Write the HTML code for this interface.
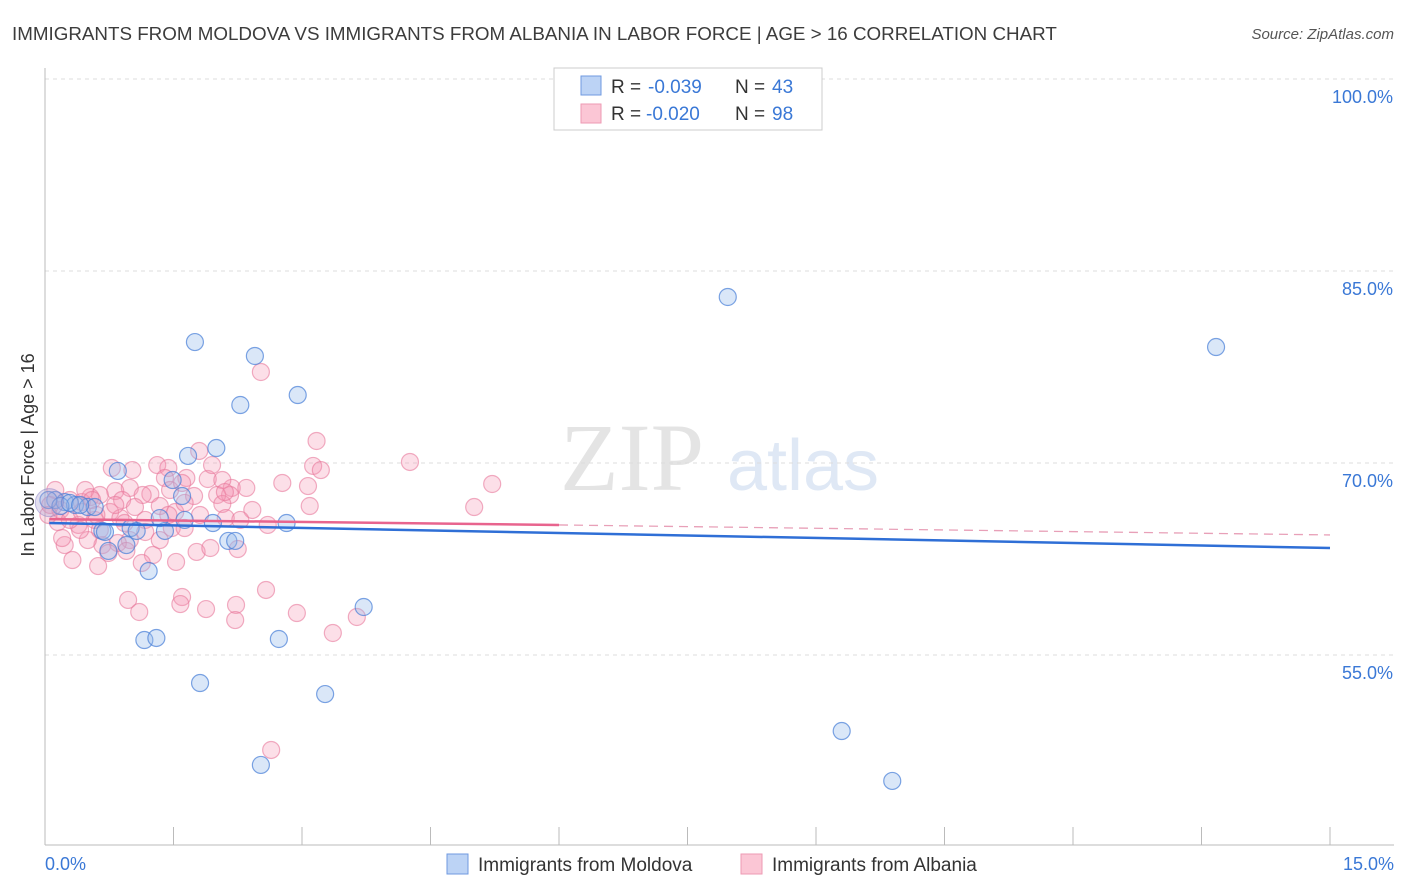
<!DOCTYPE html>
<html><head><meta charset="utf-8"><style>
body{margin:0;background:#fff;font-family:"Liberation Sans",sans-serif;}
svg{display:block}
</style></head><body>
<svg id="c" width="1406" height="892" xmlns="http://www.w3.org/2000/svg">
<text x="12" y="40" font-size="18.8" fill="#3c3c3c">IMMIGRANTS FROM MOLDOVA VS IMMIGRANTS FROM ALBANIA IN LABOR FORCE | AGE &gt; 16 CORRELATION CHART</text>
<text x="1394" y="39" font-size="15" fill="#555" font-style="italic" text-anchor="end">Source: ZipAtlas.com</text>
<g><text x="632" y="490" font-size="96" fill="#e4e4e4" text-anchor="middle" font-family="Liberation Serif,serif">ZIP</text><text x="803" y="490" font-size="72" fill="#dfe8f5" text-anchor="middle">atlas</text></g>
<g id="grid"></g>
<line x1="45" y1="68" x2="45" y2="845" stroke="#bbb"/>
<line x1="45" y1="845" x2="1394" y2="845" stroke="#bbb"/>
<g id="xt"></g>
<text x="45" y="870" font-size="18" fill="#3a78d6">0.0%</text>
<text x="1394" y="870" font-size="18" fill="#3a78d6" text-anchor="end">15.0%</text>
<text transform="translate(34,455) rotate(-90)" font-size="18" fill="#333" text-anchor="middle">In Labor Force | Age &gt; 16</text>
<g id="pts"></g>
<g id="lines"></g>
<g>
<rect x="554" y="68" width="268" height="62" fill="#fff" stroke="#ccc"/>
<rect x="581" y="76" width="20" height="19" fill="#bcd3f5" stroke="#6f9ae0"/>
<rect x="581" y="104" width="20" height="19" fill="#fbc6d5" stroke="#ee9ab3"/>
<text x="611" y="93" font-size="19" fill="#333">R = </text><text x="648" y="93" font-size="19" fill="#3a78d6">-0.039</text>
<text x="735" y="93" font-size="19" fill="#333">N = </text><text x="772" y="93" font-size="19" fill="#3a78d6">43</text>
<text x="611" y="120" font-size="19" fill="#333">R = </text><text x="646" y="120" font-size="19" fill="#3a78d6">-0.020</text>
<text x="735" y="120" font-size="19" fill="#333">N = </text><text x="772" y="120" font-size="19" fill="#3a78d6">98</text>
</g>
<g>
<rect x="447" y="854" width="21" height="20" fill="#bcd3f5" stroke="#6f9ae0"/>
<text x="478" y="871" font-size="19" fill="#333">Immigrants from Moldova</text>
<rect x="741" y="854" width="21" height="20" fill="#fbc6d5" stroke="#ee9ab3"/>
<text x="772" y="871" font-size="19" fill="#333">Immigrants from Albania</text>
</g>
</svg>
<script>
const yTicks=[100,85,70,55];
const yTickLabels=["100.0%","85.0%","70.0%","55.0%"];
const xTicks=[0,1.5,3,4.5,6,7.5,9,10.5,12,13.5,15];
const moldovaX=[1.75,2.45,7.97,13.67,2.28,2.95,2.0,1.67,0.85,1.6,0.12,0.23,0.35,0.5,0.67,1.0,1.07,1.4,1.96,2.82,2.14,2.22,0.95,0.74,1.21,3.72,1.16,1.30,2.73,1.81,3.27,9.3,9.89,2.52,0.04,0.18,1.49,1.63,1.34,0.29,0.58,0.41,0.7];
const moldovaY=[79.45,78.36,82.97,79.06,74.53,75.31,71.17,70.55,69.38,67.42,67.11,66.95,66.72,66.56,64.69,64.92,64.69,64.69,65.31,65.31,63.91,63.91,63.59,63.13,61.56,58.75,56.17,56.33,56.25,52.81,51.95,49.06,45.16,46.41,67.11,66.64,68.67,65.55,65.7,66.88,66.56,66.72,64.61];
const albaniaX=[2.52,3.17,4.26,5.22,5.01,3.13,3.22,1.8,0.78,1.31,1.44,1.65,1.4,1.9,2.18,2.35,2.77,3.07,2.07,2.16,1.74,2.01,0.99,1.23,1.14,0.82,0.64,0.53,0.43,0.29,0.18,0.06,0.58,0.39,0.76,0.9,1.05,1.34,1.52,2.07,2.11,2.42,3.09,0.88,1.17,1.48,1.63,1.17,0.99,0.85,0.67,0.5,0.41,0.23,0.2,0.32,0.62,0.74,0.95,1.26,1.13,1.53,1.77,1.93,2.25,1.63,1.81,1.44,2.6,2.58,2.94,2.23,2.22,1.88,1.6,1.58,0.97,1.1,3.36,3.64,2.64,0.15,0.04,0.12,0.47,0.55,0.6,0.82,1.02,1.46,1.6,1.95,2.1,2.28,1.34,0.93,0.29,0.64,0.43];
const albaniaY=[77.11,71.72,70.08,68.36,66.56,69.77,69.45,70.94,69.61,69.84,69.61,68.83,68.83,68.75,68.05,68.05,68.44,68.2,68.67,67.5,67.42,67.5,68.05,67.58,67.5,67.81,67.5,67.34,66.95,67.11,66.33,66.72,65.55,65.16,66.17,67.11,66.56,66.64,66.17,66.8,65.7,66.33,66.64,65.7,65.55,64.92,64.92,64.61,63.98,63.75,63.59,63.98,64.77,63.59,64.14,62.42,61.95,62.97,63.13,62.81,62.19,62.27,63.05,63.36,63.28,66.88,65.94,65.94,65.16,60.08,58.28,58.91,57.73,58.59,59.53,58.98,59.3,58.36,56.72,57.97,47.58,65.39,65.94,67.89,67.89,67.11,65.94,66.72,69.45,67.89,68.44,69.84,67.73,65.55,63.98,65.31,65.55,64.77,66.17];
const moldovaTrend=[65.31,63.36];
const albaniaTrend=[65.62,65.16,64.38];
const X=v=>45+v/15*1285, Y=v=>79+(100-v)*12.8;
const NS="http://www.w3.org/2000/svg";
function mk(t,a,p){const e=document.createElementNS(NS,t);for(const k in a)e.setAttribute(k,a[k]);p.appendChild(e);return e;}
const g=document.getElementById('grid');
yTicks.forEach((v,i)=>{
 const l=mk('line',{x1:45,x2:1394,y1:Y(v),y2:Y(v),stroke:'#ddd','stroke-dasharray':'4,4'},g);
 
 
 const t=mk('text',{x:1393,y:Y(v)+24,'font-size':18,fill:'#3a78d6','text-anchor':'end'},g);
 t.textContent=yTickLabels[i];
 
 
});
const xt=document.getElementById('xt');
xTicks.forEach(v=>{
 const l=mk('line',{x1:X(v),x2:X(v),y1:827,y2:845,stroke:'#bbb'},xt);
 
 
});
const pts=document.getElementById('pts');
albaniaX.forEach((x,i)=>{
 const c=mk('circle',{cx:X(x),cy:Y(albaniaY[i]),r:8.5,fill:'rgba(245,150,180,0.3)',stroke:'rgba(232,120,155,0.6)','stroke-width':1.2},pts);
 
 
});
moldovaX.forEach((x,i)=>{
 const c=mk('circle',{cx:X(x),cy:Y(moldovaY[i]),r:8.5,fill:'rgba(150,185,235,0.35)',stroke:'rgba(70,125,215,0.7)','stroke-width':1.2},pts);
 
 
});
const big=mk('circle',{cx:X(0.05),cy:Y(66.9),r:14,fill:'rgba(170,160,210,0.35)',stroke:'rgba(140,130,200,0.5)'},pts);


const ln=document.getElementById('lines');
let a=mk('line',{x1:X(0.05),y1:Y(albaniaTrend[0]),x2:X(6),y2:Y(albaniaTrend[1]),stroke:'#e8648e','stroke-width':2.5},ln);


a=mk('line',{x1:X(6),y1:Y(albaniaTrend[1]),x2:X(15),y2:Y(albaniaTrend[2]),stroke:'#e8a0b8','stroke-width':1.3,'stroke-dasharray':'9,6'},ln);


a=mk('line',{x1:X(0.05),y1:Y(moldovaTrend[0]),x2:X(15),y2:Y(moldovaTrend[1]),stroke:'#2f6fd6','stroke-width':2.5},ln);


</script>
</body></html>
